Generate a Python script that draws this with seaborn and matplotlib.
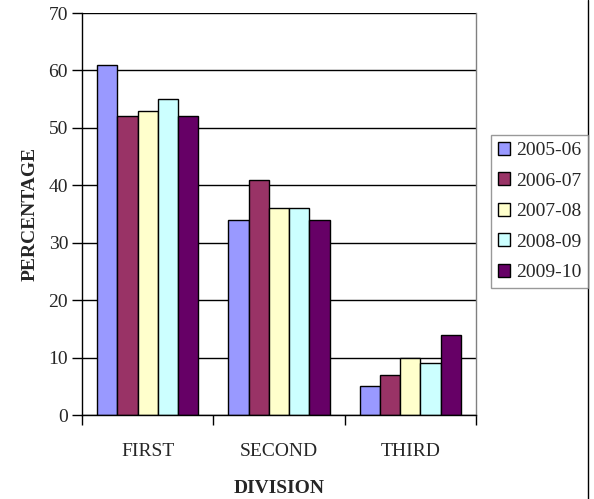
import seaborn as sns
import matplotlib.pyplot as plt
import pandas as pd
from matplotlib.lines import Line2D

divisions = ["FIRST", "SECOND", "THIRD"]
years = ["2005-06", "2006-07", "2007-08", "2008-09", "2009-10"]
first_vals = [61, 52, 53, 55, 52]
second_vals = [34, 41, 36, 36, 34]
third_vals = [5, 7, 10, 9, 14]
colors = ["#9999FF", "#993366", "#FFFFCC", "#CCFFFF", "#660066"]

rows = []
for div, vals in zip(divisions, [first_vals, second_vals, third_vals]):
    for yr, v in zip(years, vals):
        rows.append({"division": div, "year": yr, "pct": v})
df = pd.DataFrame(rows)

sns.set_style("white")
plt.rcParams['font.family'] = ['Liberation Serif', 'DejaVu Serif']

fig = plt.figure(figsize=(5.94, 4.99), dpi=100)
ax = fig.add_axes([82/594, 1-415/499, (476-82)/594, (415-13)/499])

sns.barplot(data=df, x="division", y="pct", hue="year", order=divisions,
            hue_order=years, palette=colors, width=0.77, gap=0,
            edgecolor="black", linewidth=1, saturation=1, ax=ax, legend=False)

ax.set_ylim(0, 70)
ax.set_yticks(range(0, 71, 10))
ax.set_xlim(-0.5, 2.5)
ax.yaxis.grid(True, color="black", linewidth=1)
ax.set_axisbelow(True)

# category boundaries as ticks, labels in the middle
ax.set_xticks([-0.5, 0.5, 1.5, 2.5])
ax.set_xticklabels([])
ax.set_xticks([0, 1, 2], minor=True)
ax.set_xticklabels(divisions, minor=True, fontsize=14)
ax.tick_params(axis="x", which="major", direction="out", length=7, width=1,
               color="black", bottom=True)
ax.tick_params(axis="x", which="minor", length=0, pad=20.5)
ax.tick_params(axis="y", direction="out", length=7, width=1, color="black",
               left=True, labelsize=14, pad=3)

for side in ["left", "bottom"]:
    ax.spines[side].set_color("black")
    ax.spines[side].set_linewidth(1)
ax.spines["top"].set_visible(False)
ax.spines["right"].set_color("#808080")
ax.spines["right"].set_linewidth(1)

ax.set_xlabel("DIVISION", fontsize=14, fontweight="bold", labelpad=14)
ax.set_ylabel("PERCENTAGE", fontsize=14, fontweight="bold", labelpad=7)

handles = [plt.Rectangle((0, 0), 1, 1, facecolor=c, edgecolor="black", linewidth=1)
           for c in colors]
leg = fig.legend(handles, years, loc="upper left",
                 bbox_to_anchor=(491/594, 1-135/499), fontsize=14,
                 frameon=True, fancybox=False, handlelength=0.65,
                 handleheight=0.65, handletextpad=0.3, labelspacing=0.68,
                 borderpad=0.35, borderaxespad=0)
leg.get_frame().set_edgecolor("#808080")
leg.get_frame().set_linewidth(1)

fig.add_artist(Line2D([588/594, 588/594], [0, 1], color="black", linewidth=1,
                      transform=fig.transFigure))

plt.savefig("out.png", dpi=100)
